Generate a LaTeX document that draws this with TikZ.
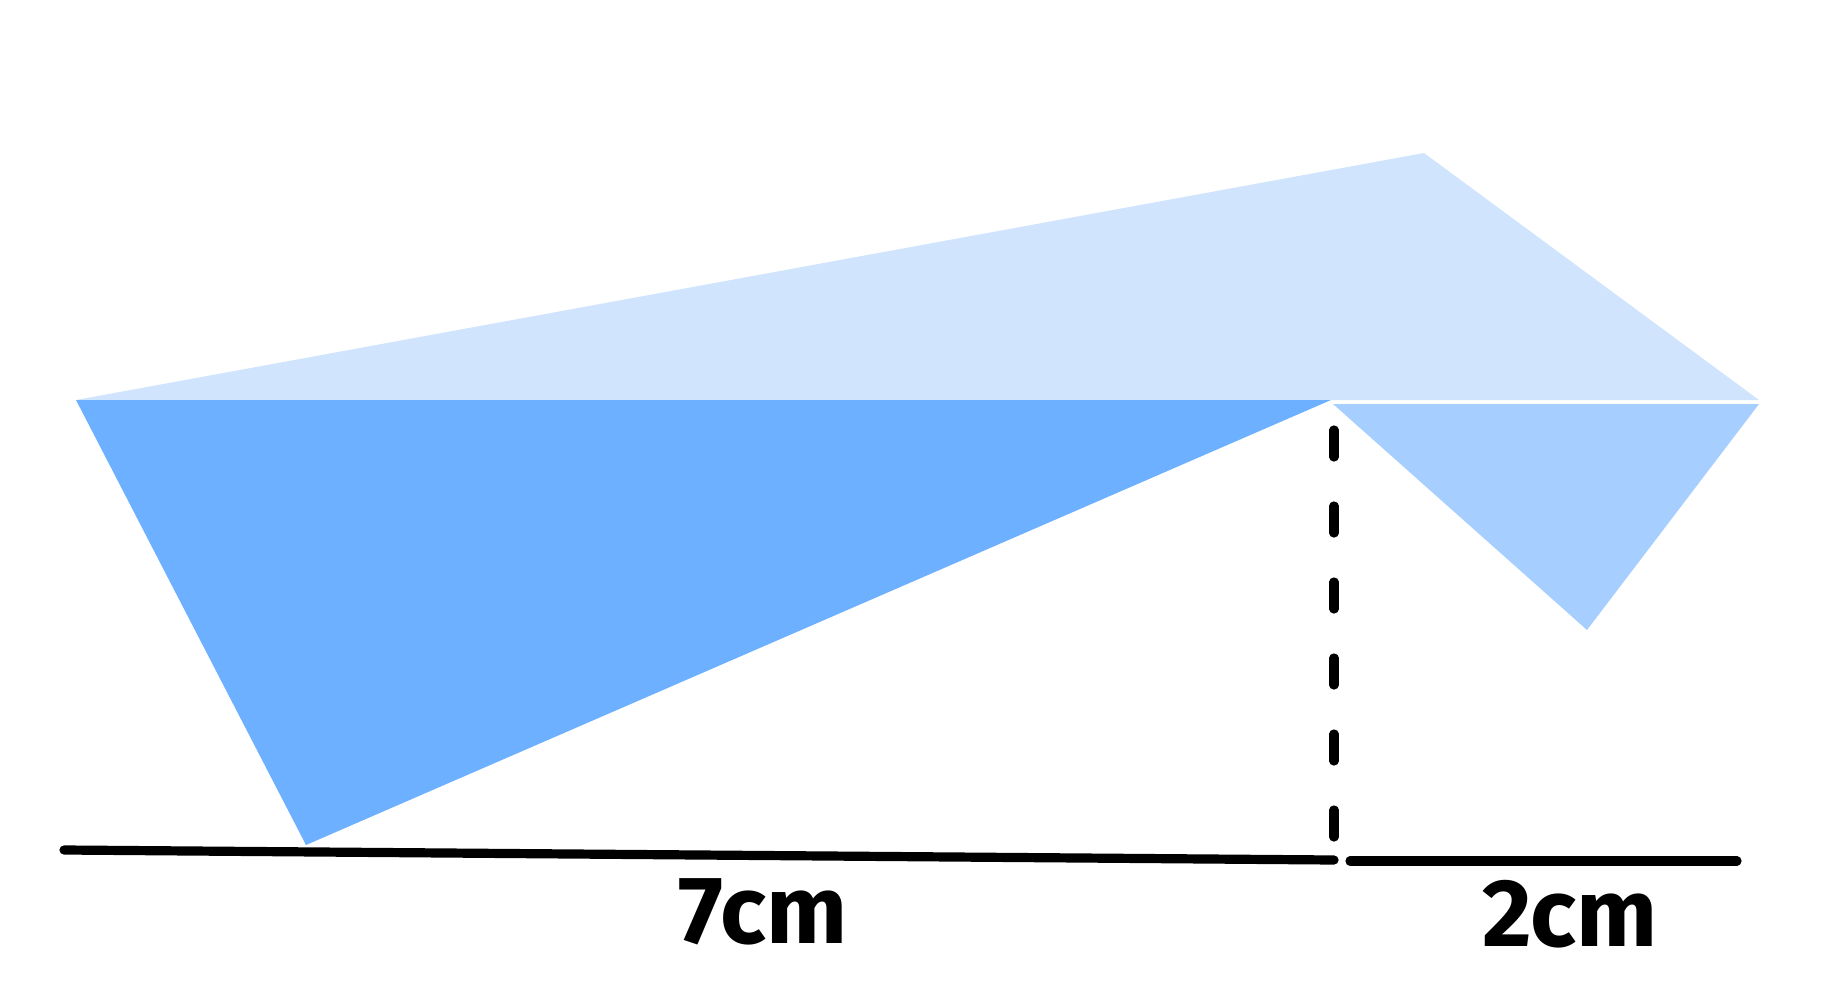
\documentclass[tikz,border=0pt]{standalone}
\usepackage{fontspec}
\newfontfamily\handfont{Fira Sans}
\definecolor{darkblue}{HTML}{6DB0FF}
\definecolor{midblue}{HTML}{A6CEFF}
\definecolor{lightblue}{HTML}{D0E4FE}
\begin{document}
\begin{tikzpicture}[x=0.5pt,y=-0.5pt,
  measure/.style={line width=4.6pt,line cap=round},
  dashline/.style={line width=4.6pt,line cap=round,dash pattern=on 13.5pt off 24.5pt},
  lbl/.style={font=\handfont\fontsize{48}{52}\selectfont\bfseries,inner sep=0pt}]
\useasboundingbox (0,0) rectangle (1830,1000);
% points
\coordinate (L) at (76,400);
\coordinate (T) at (1424,153);
\coordinate (R) at (1759,400);
\coordinate (M) at (1331,400);
\coordinate (B) at (306,845);
\coordinate (MR) at (1759,404);
\coordinate (ML) at (1333,404);
\coordinate (MB) at (1587,630);
% shapes
\fill[lightblue] (L) -- (T) -- (R) -- cycle;
\fill[darkblue] (L) -- (M) -- (B) -- cycle;
\fill[midblue] (ML) -- (MR) -- (MB) -- cycle;
% dashed vertical
\coordinate (D1) at (1334,430);
\coordinate (D2) at (1334,843);
\draw[dashline] (D1) -- (D2);
% measure lines
\coordinate (A1) at (64,850);
\coordinate (A2) at (1334,860);
\coordinate (C1) at (1350,861);
\coordinate (C2) at (1737,861);
\draw[measure] (A1) -- (A2);
\draw[measure] (C1) -- (C2);
% labels
\node[lbl] (l7) at (763,912) {7cm};
\node[lbl] (l2) at (1570,914) {2cm};
\end{tikzpicture}
\end{document}
